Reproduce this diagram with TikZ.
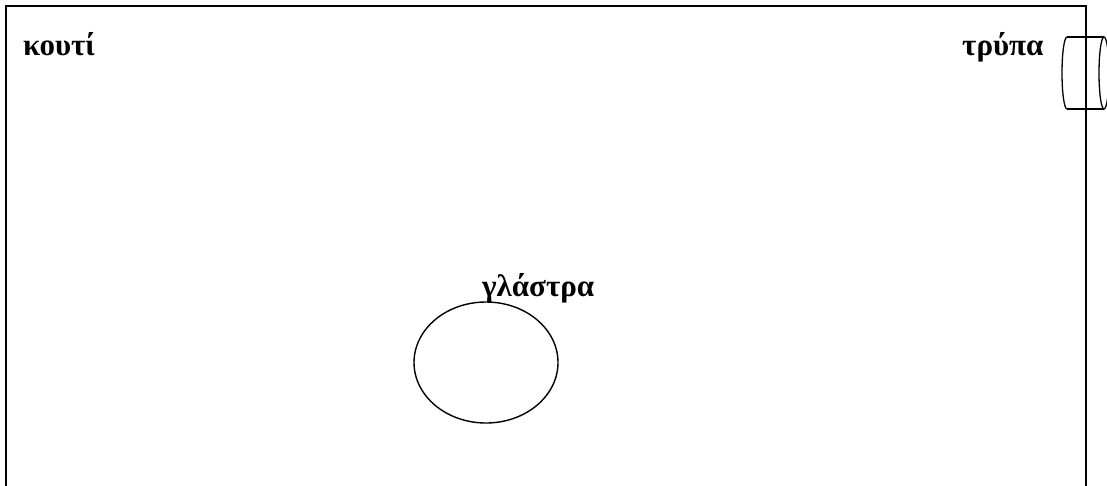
\documentclass[tikz,border=0pt]{standalone}
\usepackage{fontspec}
\setmainfont{Liberation Serif}
\usetikzlibrary{shapes.geometric}
\tikzset{
  lbl/.style={inner sep=0pt, anchor=base west, font=\fontsize{31}{36}\selectfont\bfseries},
  boxline/.style={line width=2pt},
  thin/.style={line width=1.3pt},
  pot/.style={draw, ellipse, line width=1.4pt, minimum width=144pt, minimum height=121pt, inner sep=0pt}
}
\begin{document}
\begin{tikzpicture}[x=1pt,y=-1pt]
\useasboundingbox (0,0) rectangle (1107,485);
\clip (0,0) rectangle (1107,485);
% box (open at the bottom, continuing beyond the picture)
\coordinate (bl) at (6,486);
\coordinate (tl) at (6,6);
\coordinate (tr) at (1086,6);
\coordinate (br) at (1086,486);
\draw[boxline] (bl) -- (tl) -- (tr) -- (br);
% labels
\node[lbl] (kouti) at (23,55) {κουτί};
\node[lbl] (trypa) at (962,55) {τρύπα};
\node[lbl] (glastra) at (482,296) {γλάστρα};
% pot
\node[pot] (potshape) at (486,362.5) {};
% hole (horizontal cylinder)
\coordinate (c1t) at (1067,37);
\coordinate (c1b) at (1067,109);
\coordinate (c2t) at (1104,37);
\coordinate (c2b) at (1104,109);
\draw[thin] (c1t) -- (c2t);
\draw[thin] (c1b) -- (c2b);
\draw[thin] (c1t) arc[start angle=270, end angle=90, x radius=5, y radius=36];
\draw[thin] (1104,73) ellipse[x radius=5, y radius=36];
\end{tikzpicture}
\end{document}
